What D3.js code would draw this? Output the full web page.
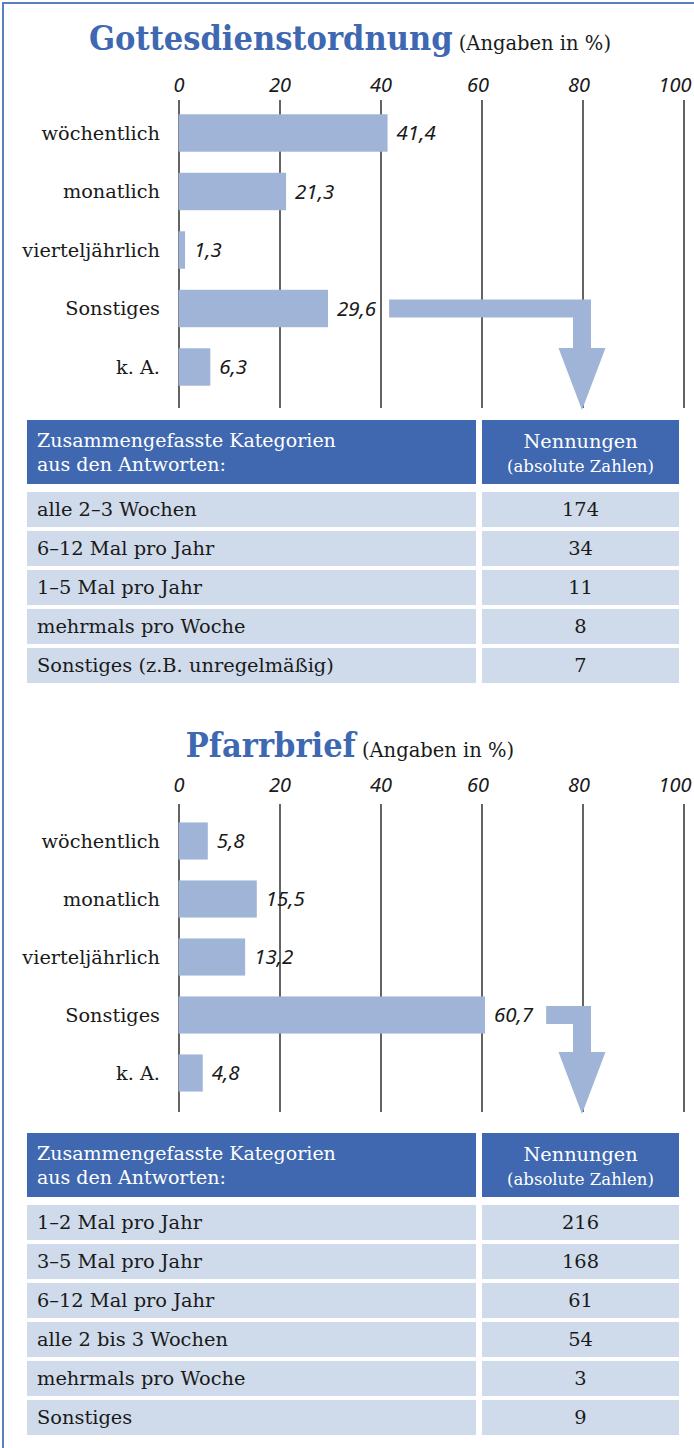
<!DOCTYPE html>
<html lang="de">
<head>
    <meta charset="UTF-8">
    <script src="https://d3js.org/d3.v7.min.js"></script>
    <title>Gottesdienstordnung und Pfarrbrief</title>
    <style>
        body { margin: 0; background: #fff; }
        .serif { font-family: "DejaVu Serif", serif; }
        .titel { font-family: "DejaVu Serif Condensed", "DejaVu Serif", serif; font-stretch: condensed; font-weight: bold; fill: #3e68b1; }
        .axis text, .wert { font-family: "Noto Sans", sans-serif; font-style: italic; fill: #1a1a1a; }
    </style>
</head>
<body>
<div id="chart"></div>
<script>
// Kategorien und Werte (Angaben in %)
const kategorien = ["wöchentlich", "monatlich", "vierteljährlich", "Sonstiges", "k. A."];
const gottesdienstWerte = [41.4, 21.3, 1.3, 29.6, 6.3];
const pfarrbriefWerte = [5.8, 15.5, 13.2, 60.7, 4.8];
const xTicks = [0, 20, 40, 60, 80, 100];

// Tabellen: zusammengefasste Kategorien (absolute Zahlen)
const gdTabelleKategorien = ["alle 2–3 Wochen", "6–12 Mal pro Jahr", "1–5 Mal pro Jahr", "mehrmals pro Woche", "Sonstiges (z.B. unregelmäßig)"];
const gdTabelleNennungen = [174, 34, 11, 8, 7];
const pbTabelleKategorien = ["1–2 Mal pro Jahr", "3–5 Mal pro Jahr", "6–12 Mal pro Jahr", "alle 2 bis 3 Wochen", "mehrmals pro Woche", "Sonstiges"];
const pbTabelleNennungen = [216, 168, 61, 54, 3, 9];

const width = 694, height = 1448;
const barColor = "#9fb4d6";
const headColor = "#3f68b0";
const rowColor = "#cfdaeb";

const svg = d3.select("#chart").append("svg")
    .attr("width", width)
    .attr("height", height);

// Rahmen links und oben
svg.append("path")
    .attr("d", `M3,${height} L3,3 L${width},3`)
    .attr("fill", "none")
    .attr("stroke", "#5b80c2")
    .attr("stroke-width", 2);

const x = d3.scaleLinear().domain([0, 100]).range([178.5, 683.5]);

function drawSection(s) {
    const g = svg.append("g");

    // Titel
    const t = g.append("text")
        .attr("x", 350)
        .attr("y", s.titleY)
        .attr("text-anchor", "middle");
    t.append("tspan").attr("class", "titel").attr("font-size", 34).text(s.title);
    t.append("tspan").attr("class", "serif").attr("font-size", 19.5).attr("fill", "#1a1a1a").text(" (Angaben in %)");

    const y = d3.scaleBand()
        .domain(kategorien)
        .range(s.bandRange)
        .paddingInner(0.36)
        .paddingOuter(0.18);

    // Gitterlinien und Achsenbeschriftung
    const axis = g.append("g")
        .attr("class", "axis")
        .attr("transform", `translate(0,${s.gridTop})`)
        .call(d3.axisTop(x).tickValues(xTicks).tickSize(-(s.gridBottom - s.gridTop)).tickPadding(s.tickPad));
    axis.select(".domain").remove();
    axis.selectAll("line").attr("stroke", "#222").attr("stroke-width", 1.4);
    axis.selectAll("text").attr("font-size", 20)
        .attr("dx", d => d === 100 ? -9 : (d >= 60 ? -4 : 0));

    // Balken
    g.selectAll(".bar")
        .data(s.values)
        .enter().append("rect")
        .attr("class", "bar")
        .attr("x", x(0))
        .attr("y", (d, i) => y(kategorien[i]))
        .attr("width", d => x(d) - x(0))
        .attr("height", y.bandwidth())
        .attr("fill", barColor);

    // Kategorienamen
    g.selectAll(".kat")
        .data(kategorien)
        .enter().append("text")
        .attr("class", "serif")
        .attr("x", 160)
        .attr("y", d => y(d) + y.bandwidth() / 2)
        .attr("dy", "0.35em")
        .attr("text-anchor", "end")
        .attr("font-size", 19.3)
        .attr("fill", "#1a1a1a")
        .text(d => d);

    // Werte
    const labels = g.selectAll(".wert")
        .data(s.values)
        .enter().append("text")
        .attr("class", "wert")
        .attr("x", d => x(d) + 9)
        .attr("y", (d, i) => y(kategorien[i]) + y.bandwidth() / 2)
        .attr("dy", "0.35em")
        .attr("font-size", 20.5)
        .text(d => d3.format(".1f")(d).replace(".", ","));

    // Pfeil von "Sonstiges" zur Tabelle
    const si = kategorien.indexOf("Sonstiges");
    const lab = labels.nodes()[si];
    const sx = x(s.values[si]) + 9 + lab.getComputedTextLength() + 13;
    const cy = y("Sonstiges") + y.bandwidth() / 2;
    const ax = x(80) - 0.5;
    const tip = s.gridBottom + 2;
    const headTop = tip - 62;
    g.append("path")
        .attr("d", `M${sx},${cy - 9} L${ax + 9},${cy - 9} L${ax + 9},${headTop} L${ax + 23.5},${headTop} L${ax},${tip} L${ax - 23.5},${headTop} L${ax - 9},${headTop} L${ax - 9},${cy + 9} L${sx},${cy + 9} Z`)
        .attr("fill", barColor);

    // Tabelle
    const tb = g.append("g").attr("transform", `translate(0,${s.tableTop})`);
    const c1 = 27, w1 = 449, c2 = 482, w2 = 197;
    tb.append("rect").attr("x", c1).attr("y", 0).attr("width", w1).attr("height", 64).attr("fill", headColor);
    tb.append("rect").attr("x", c2).attr("y", 0).attr("width", w2).attr("height", 64).attr("fill", headColor);
    tb.append("text").attr("class", "serif").attr("x", 37).attr("y", 27).attr("font-size", 19).attr("fill", "#fff")
        .text("Zusammengefasste Kategorien");
    tb.append("text").attr("class", "serif").attr("x", 37).attr("y", 51).attr("font-size", 19).attr("fill", "#fff")
        .text("aus den Antworten:");
    tb.append("text").attr("class", "serif").attr("x", c2 + w2 / 2).attr("y", 28).attr("text-anchor", "middle").attr("font-size", 19.3).attr("fill", "#fff")
        .text("Nennungen");
    tb.append("text").attr("class", "serif").attr("x", c2 + w2 / 2).attr("y", 52).attr("text-anchor", "middle").attr("font-size", 16.5).attr("fill", "#fff")
        .text("(absolute Zahlen)");

    const ry = d3.scaleBand()
        .domain(d3.range(s.tableCats.length))
        .range([70, 70 + 39 * s.tableCats.length])
        .paddingInner(0.1)
        .paddingOuter(0.05);

    const rows = tb.selectAll(".row")
        .data(s.tableCats)
        .enter().append("g")
        .attr("class", "row")
        .attr("transform", (d, i) => `translate(0,${ry(i)})`);
    rows.append("rect").attr("x", c1).attr("width", w1).attr("height", ry.bandwidth()).attr("fill", rowColor);
    rows.append("rect").attr("x", c2).attr("width", w2).attr("height", ry.bandwidth()).attr("fill", rowColor);
    rows.append("text").attr("class", "serif")
        .attr("x", 37).attr("y", ry.bandwidth() / 2).attr("dy", "0.35em")
        .attr("font-size", 19.4).attr("fill", "#1a1a1a")
        .text(d => d);
    rows.append("text").attr("class", "serif")
        .attr("x", c2 + w2 / 2).attr("y", ry.bandwidth() / 2).attr("dy", "0.35em")
        .attr("text-anchor", "middle")
        .attr("font-size", 19.4).attr("fill", "#1a1a1a")
        .text((d, i) => s.tableVals[i]);
}

drawSection({
    title: "Gottesdienstordnung",
    titleY: 50,
    gridTop: 100, gridBottom: 408, tickPad: 8,
    bandRange: [103.75, 396.25],
    values: gottesdienstWerte,
    tableTop: 420,
    tableCats: gdTabelleKategorien,
    tableVals: gdTabelleNennungen
});

drawSection({
    title: "Pfarrbrief",
    titleY: 757,
    gridTop: 804, gridBottom: 1112, tickPad: 12,
    bandRange: [812, 1102],
    values: pfarrbriefWerte,
    tableTop: 1133,
    tableCats: pbTabelleKategorien,
    tableVals: pbTabelleNennungen
});
</script>
</body>
</html>
